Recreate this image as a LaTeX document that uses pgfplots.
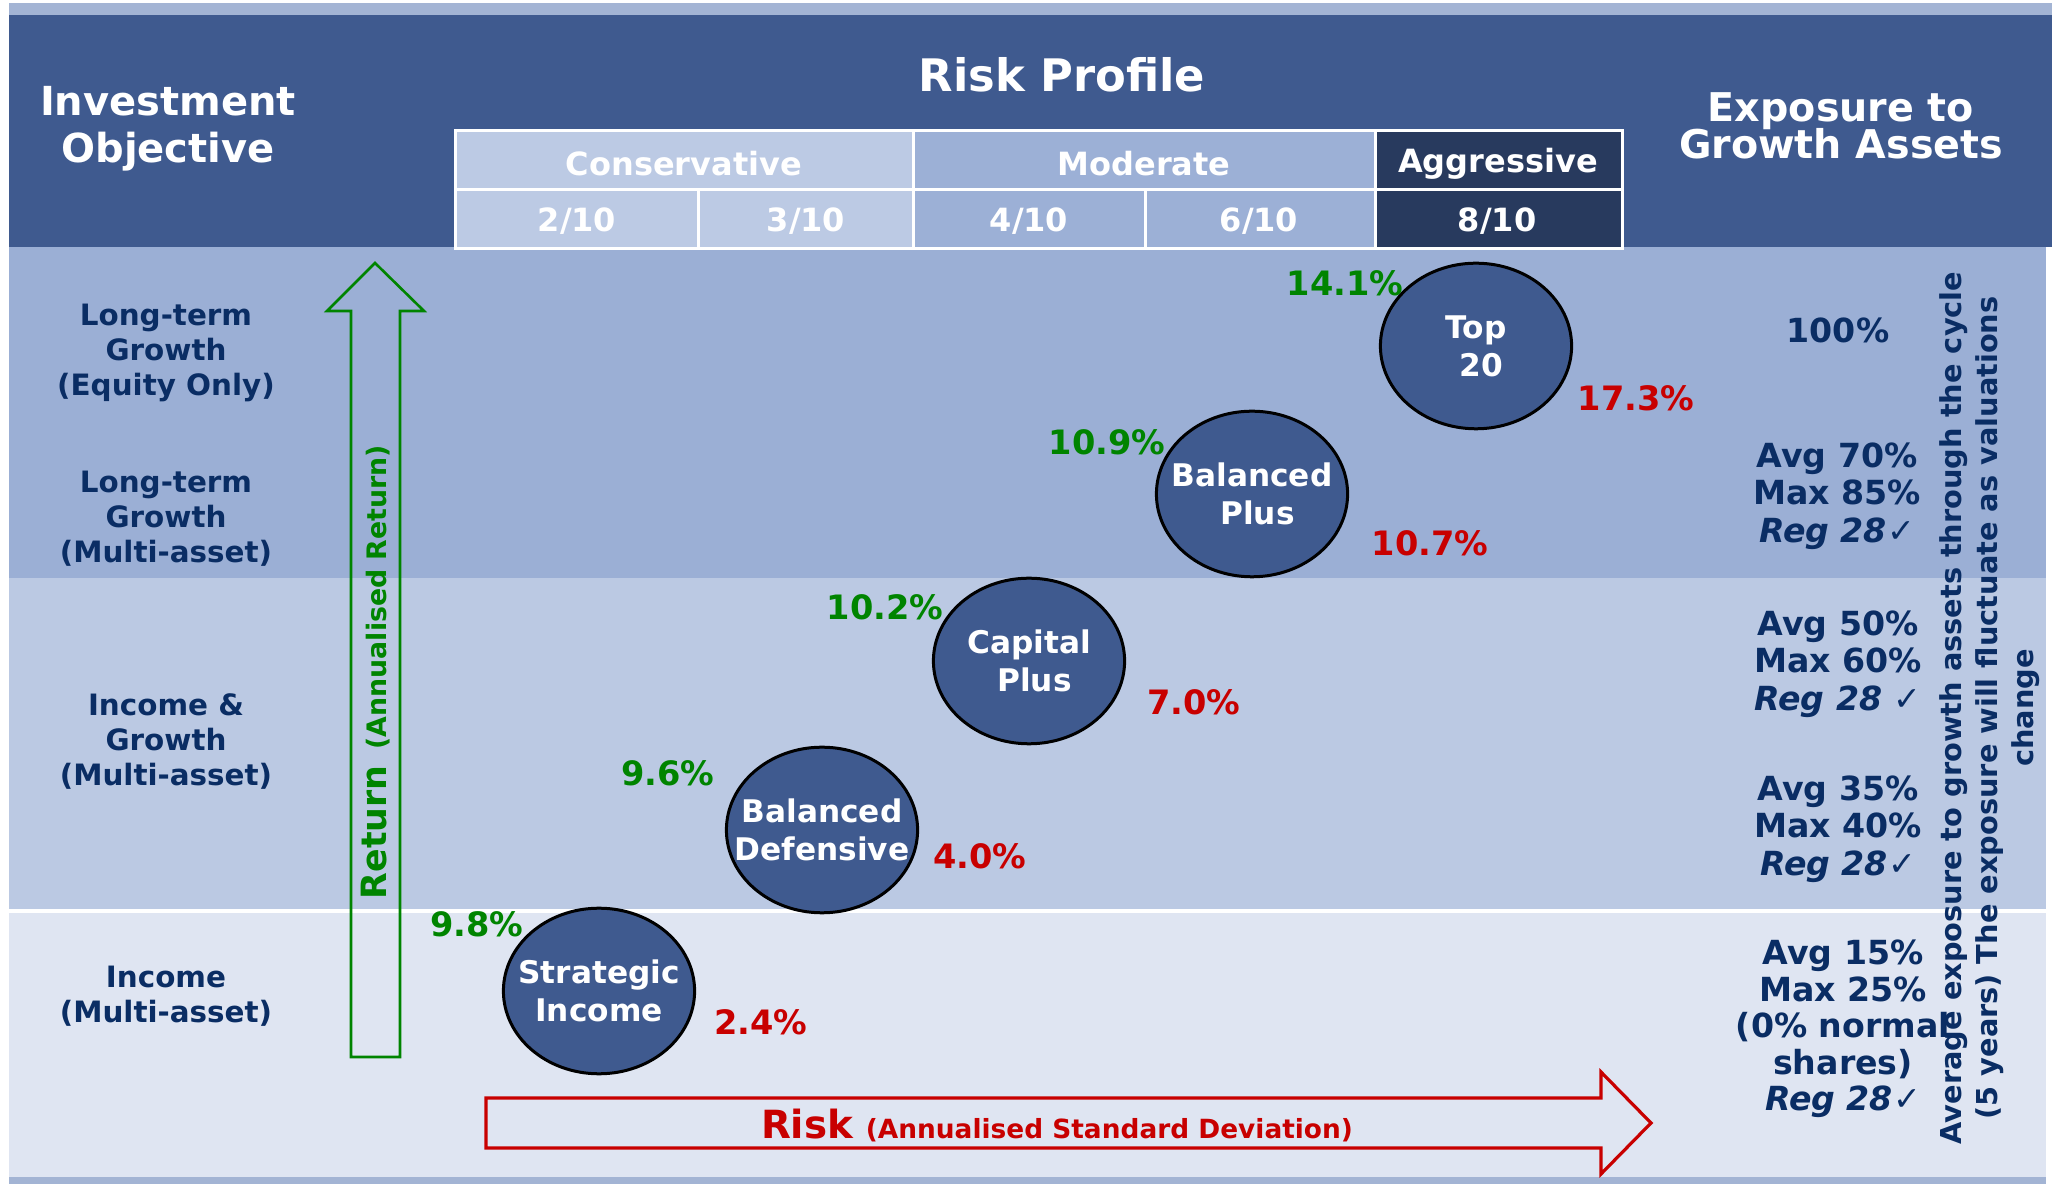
\documentclass[border=0pt]{standalone}
\usepackage{fontspec}
\setmainfont{DejaVu Sans}
\usepackage{pgfplots}
\pgfplotsset{compat=1.18}
\definecolor{hdr}{HTML}{3F5A8F}
\definecolor{bandA}{HTML}{9BAFD5}
\definecolor{bandB}{HTML}{BBC9E3}
\definecolor{bandC}{HTML}{DFE5F2}
\definecolor{strip}{HTML}{A3B4D4}
\definecolor{cons}{HTML}{BCCAE4}
\definecolor{modc}{HTML}{9CB0D6}
\definecolor{agg}{HTML}{283A5E}
\definecolor{navy}{HTML}{0A2D64}
\definecolor{grn}{HTML}{008400}
\definecolor{rd}{HTML}{C80000}
\pgfdeclareplotmark{bubble}{%
  \pgfpathellipse{\pgfpointorigin}{\pgfqpoint{23.9pt}{0pt}}{\pgfqpoint{0pt}{20.7pt}}%
  \pgfusepathqfillstroke}
\newcommand\fz[2]{\fontsize{#1}{#2}\selectfont\bfseries\lineskiplimit=-10pt}
\begin{document}
\begin{tikzpicture}
\begin{axis}[scale only axis, width=513.75pt, height=296pt,
  xmin=0, xmax=2055, ymin=0, ymax=1184, y dir=reverse,
  hide axis, clip=false]
% backgrounds
\fill[white] (axis cs:0,0) rectangle (axis cs:2055,1184);
\fill[strip] (axis cs:9,3) rectangle (axis cs:2052,15);
\fill[hdr] (axis cs:9,15) rectangle (axis cs:2052,247);
\fill[bandA] (axis cs:9,247) rectangle (axis cs:2046,578);
\fill[bandB] (axis cs:9,578) rectangle (axis cs:2046,909);
\fill[bandC] (axis cs:9,913) rectangle (axis cs:2046,1177);
\fill[strip] (axis cs:9,1177) rectangle (axis cs:2046,1184);
% table
\begin{scope}[draw=white, line width=0.75pt]
\filldraw[fill=cons] (axis cs:455,131) rectangle (axis cs:913,190);
\filldraw[fill=modc] (axis cs:913,131) rectangle (axis cs:1375,190);
\filldraw[fill=agg] (axis cs:1375,131) rectangle (axis cs:1622,190);
\filldraw[fill=cons] (axis cs:455,190) rectangle (axis cs:698,249);
\filldraw[fill=cons] (axis cs:698,190) rectangle (axis cs:913,249);
\filldraw[fill=modc] (axis cs:913,190) rectangle (axis cs:1145,249);
\filldraw[fill=modc] (axis cs:1145,190) rectangle (axis cs:1375,249);
\filldraw[fill=agg] (axis cs:1375,190) rectangle (axis cs:1622,249);
\end{scope}
% arrows
\draw[grn, line width=0.65pt, line join=miter] (axis cs:351,1057) -- (axis cs:351,311) -- (axis cs:327,311) -- (axis cs:375,263) -- (axis cs:424,311) -- (axis cs:400,311) -- (axis cs:400,1057) -- cycle;
\draw[rd, line width=0.8pt, line join=miter] (axis cs:486,1098) -- (axis cs:1601,1098) -- (axis cs:1601,1072) -- (axis cs:1651,1123) -- (axis cs:1601,1174) -- (axis cs:1601,1148) -- (axis cs:486,1148) -- cycle;
% bubbles with their names
\addplot[only marks, mark=bubble, mark options={fill=hdr, draw=black, line width=0.75pt},
  point meta=explicit symbolic, nodes near coords,
  every node near coord/.style={anchor=center, font=\fz{7.8pt}{9.5pt}, text=white, align=center}]
  coordinates {(599,991) [Strategic\\Income] (822,830) [Balanced\\Defensive]
    (1029,661) [Capital\\\ Plus] (1252,494) [Balanced\\\ Plus] (1476,346) [Top\\\ 20]};
% header texts
\node[font=\fz{10pt}{11.75pt}, text=white, align=center] at (axis cs:168,129) {Investment\\Objective};
\node[font=\fz{11.2pt}{13pt}, text=white] at (axis cs:1062,75) {Risk Profile};
\node[font=\fz{9.9pt}{9.2pt}, text=white, align=center] at (axis cs:1841,126) {Exposure to\\Growth Assets};
\begin{scope}[every node/.style={font=\fz{8pt}{9pt}, text=white}]
\node at (axis cs:684,164) {Conservative};
\node at (axis cs:1144,164) {Moderate};
\node at (axis cs:1498,164) {Aggressive};
\node at (axis cs:577,221) {2/10};
\node at (axis cs:806,221) {3/10};
\node at (axis cs:1029,221) {4/10};
\node at (axis cs:1259,221) {6/10};
\node at (axis cs:1497,221) {8/10};
\end{scope}
% left labels
\begin{scope}[every node/.style={font=\fz{7.35pt}{8.75pt}, text=navy, align=center}]
\node at (axis cs:166,353) {Long-term\\Growth\\(Equity Only)};
\node at (axis cs:166,519) {Long-term\\Growth\\(Multi-asset)};
\node at (axis cs:166,742) {Income \&\\Growth\\(Multi-asset)};
\node at (axis cs:166,996) {Income\\(Multi-asset)};
\end{scope}
% right labels
\begin{scope}[every node/.style={font=\fz{8.3pt}{9.4pt}, text=navy, align=center}]
\node at (axis cs:1838,330) {100\%};
\node at (axis cs:1837,496) {Avg 70\%\\Max 85\%\\{\itshape Reg 28}{\upshape ✓}};
\node at (axis cs:1838,664) {Avg 50\%\\Max 60\%\\{\itshape Reg 28 }{\upshape ✓}};
\node at (axis cs:1838,829) {Avg 35\%\\Max 40\%\\{\itshape Reg 28}{\upshape ✓}};
\node[font=\fz{8.3pt}{9.1pt}] at (axis cs:1843,1029) {Avg 15\%\\Max 25\%\\(0\% normal\\shares)\\{\itshape Reg 28}{\upshape ✓}};
\end{scope}
\node[rotate=90, font=\fz{7.2pt}{9pt}, text=navy, align=center] at (axis cs:1990,708)
  {Average exposure to growth assets through the cycle\\(5 years) The exposure will fluctuate as valuations\\change};
% return values (green)
\begin{scope}[every node/.style={font=\fz{8.4pt}{9.5pt}, text=grn}]
\node at (axis cs:477,924) {9.8\%};
\node at (axis cs:668,773) {9.6\%};
\node at (axis cs:885,607) {10.2\%};
\node at (axis cs:1107,442) {10.9\%};
\node at (axis cs:1345,283) {14.1\%};
\end{scope}
% risk values (red)
\begin{scope}[every node/.style={font=\fz{8.4pt}{9.5pt}, text=rd}]
\node at (axis cs:761,1022) {2.4\%};
\node at (axis cs:980,856) {4.0\%};
\node at (axis cs:1194,702) {7.0\%};
\node at (axis cs:1430,543) {10.7\%};
\node at (axis cs:1636,398) {17.3\%};
\end{scope}
% axis arrow labels
\node[rotate=90, text=grn] at (axis cs:376,672) {{\fz{8.7pt}{10pt}Return}\hspace{4pt}{\fz{6.7pt}{8pt}(Annualised Return)}};
\node[anchor=base, text=rd] at (axis cs:1057,1138) {{\fz{9.7pt}{11pt}Risk} {\fz{6.6pt}{8pt}(Annualised Standard Deviation)}};
\end{axis}
\end{tikzpicture}
\end{document}
